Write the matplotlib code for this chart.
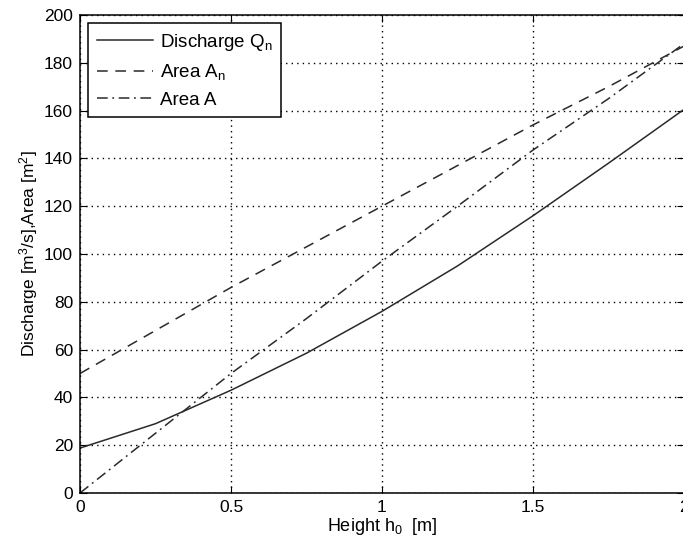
import numpy as np
import matplotlib.pyplot as plt

plt.rcParams['font.family'] = ['Liberation Sans', 'DejaVu Sans']
plt.rcParams['mathtext.fontset'] = 'custom'
plt.rcParams['mathtext.rm'] = 'Liberation Sans'
plt.rcParams['mathtext.it'] = 'Liberation Sans'

## data ##
h = [0.0, 0.25, 0.5, 0.75, 1.0, 1.25, 1.5, 1.75, 2.0]
discharge_qn = [18.8, 29, 43, 58.5, 76, 95, 116, 138, 160.5]
area_an = [50, 68, 86, 103, 120, 137, 154, 170, 187]
area_a = [0, 25, 50, 73, 97, 120, 143.5, 165, 188]

fig = plt.figure(figsize=(6.83, 5.47), dpi=100)
ax = fig.add_axes([80 / 683, 54 / 547, 604 / 683, 478 / 547])

ax.plot(h, discharge_qn, color='#2a2a2a', linewidth=1.1, linestyle='-', label='Discharge Q$_n$')
ax.plot(h, area_an, color='#2a2a2a', linewidth=1.1, linestyle=(0, (7, 5)), label='Area A$_n$')
ax.plot(h, area_a, color='#2a2a2a', linewidth=1.1, linestyle=(0, (7, 3, 1.2, 3)), label='Area A')

ax.set_xlim(0, 2)
ax.set_ylim(0, 200)
ax.set_xticks([0, 0.5, 1, 1.5, 2])
ax.set_xticklabels(['0', '0.5', '1', '1.5', '2'])
ax.set_yticks(range(0, 201, 20))
ax.tick_params(direction='in', length=5, labelsize=12.5, top=True, right=True, pad=5)
ax.grid(True, color='black', linestyle=(0, (1, 3)), linewidth=1.0)
for s in ax.spines.values():
    s.set_linewidth(1.1)

ax.set_xlabel('Height h$_0$  [m]', fontsize=13, labelpad=1)
ax.set_ylabel('Discharge [m$^3$/s],Area [m$^2$]', fontsize=12.5, labelpad=3)

leg = ax.legend(loc='upper left', fontsize=13.5, handlelength=3.0, fancybox=False,
                edgecolor='black', framealpha=1, borderaxespad=0.45, labelspacing=0.5,
                handletextpad=0.35, borderpad=0.45)
leg.get_frame().set_linewidth(1.1)

fig.savefig('out.png', dpi=100)
